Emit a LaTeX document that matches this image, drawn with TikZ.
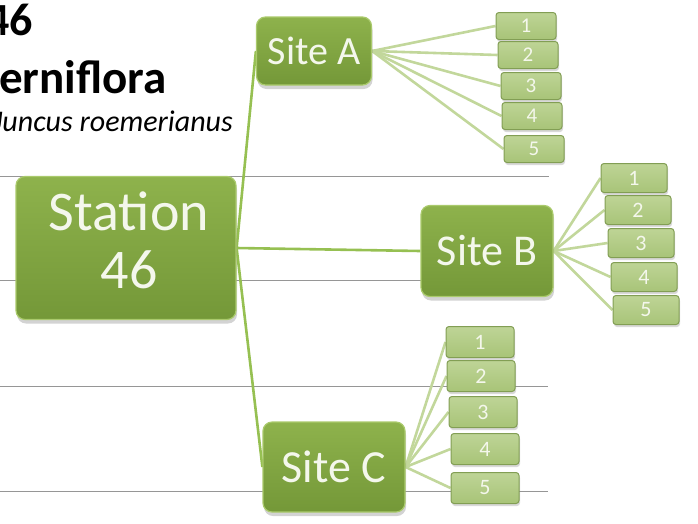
\documentclass[tikz,border=0pt]{standalone}
\usepackage{fontspec}
\setmainfont{Carlito}
\usetikzlibrary{shadows}
\pgfdeclarelayer{bg}
\pgfsetlayers{bg,main}
\definecolor{boxg}{RGB}{116,152,56}
\definecolor{boxgtop}{RGB}{142,178,76}
\definecolor{boxgrim}{RGB}{170,202,108}
\definecolor{leafg}{RGB}{168,196,120}
\definecolor{leafgtop}{RGB}{190,212,150}
\definecolor{leafrim}{RGB}{130,158,84}
\definecolor{linkg}{RGB}{150,192,82}
\definecolor{leaflink}{RGB}{194,215,155}
\definecolor{txtw}{RGB}{244,247,236}
\definecolor{rulegray}{RGB}{150,150,150}
\begin{document}
\begin{tikzpicture}[x=1pt,y=-1pt,
  bigbox/.style={rounded corners=9pt, top color=boxgtop, bottom color=boxg,
    draw=boxgrim, line width=1.2pt, text=txtw, align=center, inner sep=0pt,
    drop shadow={shadow xshift=1pt, shadow yshift=-4pt, opacity=0.35}},
  leafbox/.style={rounded corners=3pt, top color=leafgtop, bottom color=leafg,
    draw=leafrim, line width=1pt, text=txtw, inner sep=0pt,
    drop shadow={shadow xshift=1pt, shadow yshift=-2.5pt, opacity=0.3}},
  boxtext/.style={text=txtw, align=center, inner sep=0pt},
  mainlink/.style={draw=linkg, line width=2.6pt},
  leaflinks/.style={draw=leaflink, line width=2.6pt},
  rulel/.style={draw=rulegray, line width=1pt}]
\useasboundingbox (0,0) rectangle (698,523);
\clip (0,0) rectangle (698,523);

% title texts
\node[anchor=base east, inner sep=0pt, font=\fontsize{46}{50}\selectfont\bfseries] (t1) at (33,35) {46};
\node[anchor=base west, inner sep=0pt, font=\fontsize{47}{50}\selectfont\bfseries] (t2) at (-1,93) {erniflora};
\node[anchor=base east, inner sep=0pt, font=\fontsize{30}{33}\selectfont\itshape] (t3) at (233,131) {Juncus roemerianus};

% main boxes
\node[bigbox, minimum width=220pt, minimum height=143pt] (st) at (126,248) {};
\node[boxtext, font=\fontsize{56}{58}\selectfont] (stt) at (129,240) {Station\\46};
\node[bigbox, minimum width=115pt, minimum height=68pt, font=\fontsize{40}{42}\selectfont] (sa) at (314,51) {Site A};
\node[bigbox, minimum width=132pt, minimum height=91pt, font=\fontsize{44}{46}\selectfont] (sb) at (487,251) {Site B};
\node[bigbox, minimum width=142pt, minimum height=90pt, font=\fontsize{46}{48}\selectfont] (sc) at (334,467) {Site C};

% leaves A
\foreach \n/\x/\y in {1/526/26, 2/528/55, 3/531/86, 4/532/116, 5/534/149}
  \node[leafbox, minimum width=60pt, minimum height=27pt, font=\fontsize{21}{22}\selectfont] (a\n) at (\x,\y) {\n};
% leaves B
\foreach \n/\x/\y in {1/634/178, 2/638/210, 3/641/243, 4/644/277, 5/646/310}
  \node[leafbox, minimum width=66pt, minimum height=29pt, font=\fontsize{22}{23}\selectfont] (b\n) at (\x,\y) {\n};
% leaves C
\foreach \n/\x/\y in {1/480/342, 2/481/376, 3/483/412, 4/485/449, 5/485/488}
  \node[leafbox, minimum width=68pt, minimum height=31pt, font=\fontsize{22}{23}\selectfont] (c\n) at (\x,\y) {\n};

\begin{pgfonlayer}{bg}
  \draw[rulel] (0,176) -- (549,176);
  \draw[rulel] (0,280) -- (440,280);
  \draw[rulel] (0,386) -- (548,386);
  \draw[rulel] (0,491) -- (548,491);
  \foreach \s in {sa,sb,sc} \draw[mainlink] (st.east) -- (\s.west);
  \foreach \i in {1,...,5} {
    \draw[leaflinks] (sa.east) -- (a\i.west);
    \draw[leaflinks] (sb.east) -- (b\i.west);
    \draw[leaflinks] (sc.east) -- (c\i.west);
  }
\end{pgfonlayer}
\end{tikzpicture}
\end{document}
